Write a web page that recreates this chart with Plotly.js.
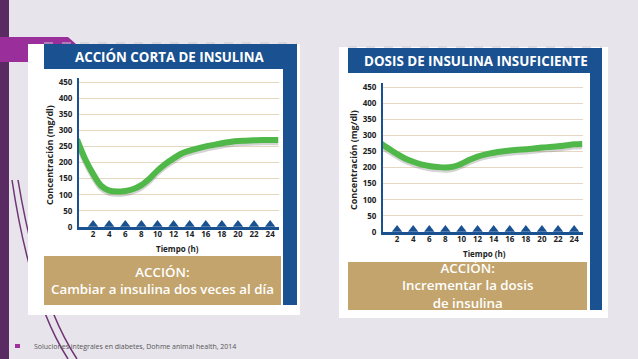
<!DOCTYPE html>
<html>
<head>
<meta charset="utf-8">
<script src="https://cdn.plot.ly/plotly-3.0.1.min.js"></script>
<style>html,body{margin:0;padding:0;background:#e8e4eb;}#chart{width:638px;height:359px;}</style>
</head>
<body>
<div id="chart"></div>
<script>
// ---- data ----
const hoursLeft = [0, 1, 2, 3, 4, 5, 6, 7, 8, 9, 10, 11, 12, 13, 14, 15, 16, 17, 18, 19, 20, 21, 22, 23, 24, 25];
const concLeft  = [272, 212, 165, 128, 113, 110, 112, 118, 130, 150, 175, 196, 213, 228, 237, 244, 250, 255, 260, 264, 267, 268, 269, 270, 270, 270];
const hoursRight = [0, 1, 2, 3, 4, 5, 6, 7, 8, 9, 10, 11, 12, 13, 14, 15, 16, 17, 18, 19, 20, 21, 22, 23, 24, 25];
const concRight  = [275, 258, 242, 228, 218, 210, 205, 202, 200, 203, 212, 224, 234, 241, 246, 250, 253, 255, 257, 259, 262, 264, 266, 269, 272, 273];
const xTicks = [2, 4, 6, 8, 10, 12, 14, 16, 18, 20, 22, 24];
const yTicks = [0, 50, 100, 150, 200, 250, 300, 350, 400, 450];
const titleLeft = "ACCIÓN CORTA DE INSULINA";
const titleRight = "DOSIS DE INSULINA INSUFICIENTE";
const actionLeft = ["ACCIÓN:", "Cambiar a insulina dos veces al día"];
const actionRight = ["ACCIÓN:", "Incrementar la dosis", "de insulina"];
const xTitle = "Tiempo (h)";
const yTitle = "Concentración (mg/dl)";
const footnote = "Soluciones integrales en diabetes, Dohme animal health, 2014";

// ---- helpers ----
const W = 638, H = 359;
const px = x => x / W;
const py = y => 1 - y / H;
const BLUE = "#1a5190", TAN = "#c3a46c", GREEN = "#4fb848", GRID = "#e4d8c0";
const FONT = "Open Sans, Noto Sans, sans-serif";

function rect(x0, y0, x1, y1, color) {
  return {type: "rect", xref: "paper", yref: "paper", layer: "below",
    x0: px(x0), x1: px(x1), y0: py(y1), y1: py(y0), fillcolor: color, line: {width: 0}};
}

const shapes = [
  rect(0, 0, 9, 359, "#5a2a63"),
  {type: "path", xref: "paper", yref: "paper", layer: "below",
   path: `M0,${py(37)} L${px(68)},${py(37)} L${px(76)},${py(44)} L${px(28)},${py(44)} L${px(28)},${py(62)} L0,${py(62)} Z`,
   fillcolor: "#9a2f9c", line: {width: 0}},
  {type: "path", xref: "paper", yref: "paper", layer: "below",
   path: `M${px(12)},${py(180)} Q${px(30)},${py(300)} ${px(68)},${py(359)}`,
   line: {color: "#6e3475", width: 1.5}},
  {type: "path", xref: "paper", yref: "paper", layer: "below",
   path: `M${px(18)},${py(180)} Q${px(38)},${py(300)} ${px(77)},${py(359)}`,
   line: {color: "#6e3475", width: 1.5}},
  // cards
  rect(28, 44, 300, 315, "#ffffff"),
  rect(339, 47, 608, 318, "#ffffff"),
  // headers
  rect(44, 44, 297, 69, BLUE),
  rect(348, 48, 602, 73, BLUE),
  // right borders
  rect(283, 44, 297, 305, BLUE),
  rect(590, 48, 602, 310, BLUE),
  // tan boxes
  rect(44, 256, 281, 305, TAN),
  rect(348, 262, 587, 310, TAN),
  // dashed tops
  {type: "line", xref: "paper", yref: "paper", layer: "below", x0: px(44), x1: px(297), y0: py(43), y1: py(43), line: {color: "#c8c8d0", width: 1, dash: "dash"}},
  {type: "line", xref: "paper", yref: "paper", layer: "below", x0: px(348), x1: px(602), y0: py(47), y1: py(47), line: {color: "#c8c8d0", width: 1, dash: "dash"}},
  // footnote bullet
  rect(15, 344, 20, 348, "#a0309e")
];

function ann(x, y, text, size, weight, color, extra) {
  return Object.assign({xref: "paper", yref: "paper", x: px(x), y: py(y), text: text, showarrow: false,
    xanchor: "center", yanchor: "middle", font: {family: FONT, size: size, weight: weight, color: color}}, extra || {});
}

const annotations = [
  ann(170, 57, titleLeft, 13.3, 700, "#ffffff"),
  ann(476, 61, titleRight, 13.4, 700, "#ffffff"),
  ann(162, 280, actionLeft.join("<br>"), 13.3, 600, "#ffffff"),
  ann(467, 285, actionRight.join("<br>"), 13.3, 600, "#ffffff"),
  ann(177, 248, xTitle, 8, 700, "#222"),
  ann(484, 253, xTitle, 8, 700, "#222"),
  ann(50, 155, yTitle, 9, 700, "#222", {textangle: -90}),
  ann(354, 160, yTitle, 9, 700, "#222", {textangle: -90}),
  ann(32, 346, footnote, 7, 400, "#555", {xanchor: "left"})
];

const yDom = (y0px, top450px) => {
  const perUnit = (y0px - top450px) / 450;
  return [py(y0px), py(y0px - perUnit * 462)];
};

function axisX(d0, d1, anchor) {
  return {domain: [px(d0), px(d1)], range: [0.25, 25.1], anchor: anchor,
    showgrid: false, zeroline: false, showline: true, linecolor: BLUE, linewidth: 3,
    tickvals: xTicks, ticks: "", ticklabelstandoff: -3,
    tickfont: {family: FONT, size: 8, weight: 700, color: "#222"}, fixedrange: true};
}
function axisY(dom, anchor) {
  return {domain: dom, range: [0, 462], anchor: anchor,
    showgrid: true, gridcolor: GRID, gridwidth: 1, zeroline: false,
    showline: true, linecolor: BLUE, linewidth: 2,
    tickvals: yTicks, ticks: "", ticklabelstandoff: 3,
    tickfont: {family: FONT, size: 8, weight: 700, color: "#222"}, fixedrange: true};
}

const shadowOff = 7;
const triY = 8;
const traces = [
  {x: hoursLeft, y: concLeft.map(v => v - shadowOff), xaxis: "x", yaxis: "y", mode: "lines",
   line: {color: "rgba(110,110,110,0.3)", width: 6, shape: "spline"}, hoverinfo: "skip"},
  {x: hoursLeft, y: concLeft, xaxis: "x", yaxis: "y", mode: "lines",
   line: {color: GREEN, width: 6, shape: "spline"}},
  {x: xTicks, y: xTicks.map(() => triY), xaxis: "x", yaxis: "y", mode: "markers", cliponaxis: false,
   marker: {symbol: "triangle-up", size: 9, color: BLUE}, hoverinfo: "skip"},
  {x: hoursRight, y: concRight.map(v => v - shadowOff), xaxis: "x2", yaxis: "y2", mode: "lines",
   line: {color: "rgba(110,110,110,0.3)", width: 6, shape: "spline"}, hoverinfo: "skip"},
  {x: hoursRight, y: concRight, xaxis: "x2", yaxis: "y2", mode: "lines",
   line: {color: GREEN, width: 6, shape: "spline"}},
  {x: xTicks, y: xTicks.map(() => triY), xaxis: "x2", yaxis: "y2", mode: "markers", cliponaxis: false,
   marker: {symbol: "triangle-up", size: 9, color: BLUE}, hoverinfo: "skip"}
];

const layout = {
  width: W, height: H, margin: {l: 0, r: 0, t: 0, b: 0},
  paper_bgcolor: "#e8e4eb", plot_bgcolor: "rgba(0,0,0,0)",
  showlegend: false, font: {family: FONT},
  xaxis: axisX(79, 279, "y"),
  yaxis: axisY(yDom(227, 82), "x"),
  xaxis2: axisX(383, 583, "y2"),
  yaxis2: axisY(yDom(232, 87), "x2"),
  shapes: shapes, annotations: annotations
};

Plotly.newPlot("chart", traces, layout, {displayModeBar: false, staticPlot: true});
</script>
</body>
</html>
